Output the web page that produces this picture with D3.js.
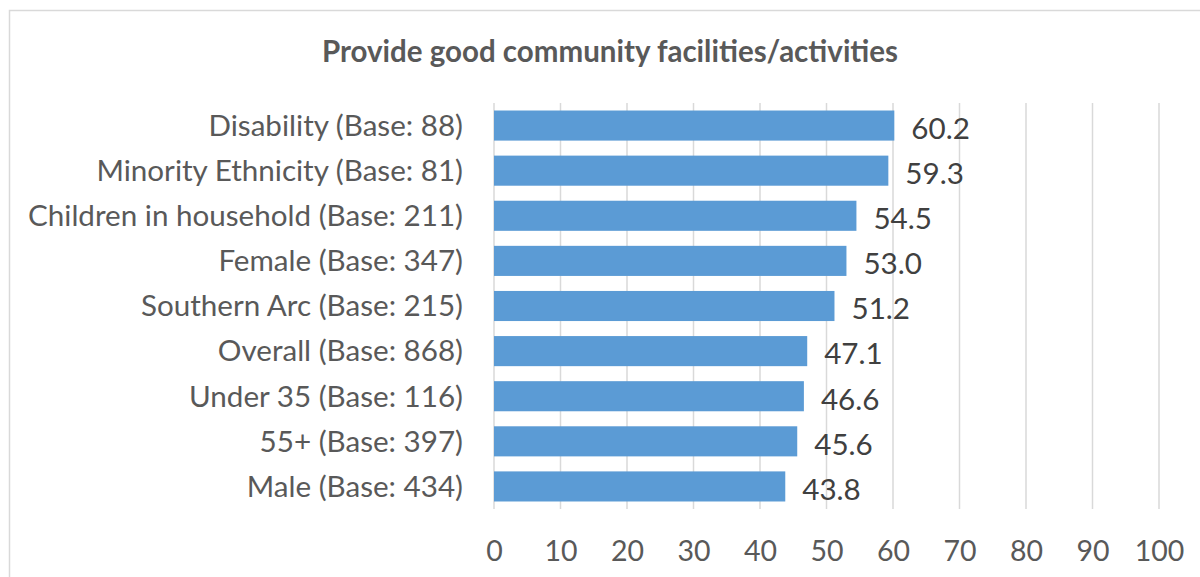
<!DOCTYPE html>
<html>
<head>
<meta charset="utf-8">
<script src="https://cdn.jsdelivr.net/npm/d3@7"></script>
<style>
  html, body { margin: 0; padding: 0; background: #fff; }
  svg { display: block; }
</style>
</head>
<body>
<div id="chart"></div>
<script>
const title = "Provide good community facilities/activities";
const categories = [
  "Disability (Base: 88)",
  "Minority Ethnicity (Base: 81)",
  "Children in household (Base: 211)",
  "Female (Base: 347)",
  "Southern Arc (Base: 215)",
  "Overall (Base: 868)",
  "Under 35 (Base: 116)",
  "55+ (Base: 397)",
  "Male (Base: 434)"
];
const values = [60.2, 59.3, 54.5, 53.0, 51.2, 47.1, 46.6, 45.6, 43.8];
const xTicks = [0, 10, 20, 30, 40, 50, 60, 70, 80, 90, 100];

const W = 1200, H = 577;
const font = "Lato, 'Liberation Sans', sans-serif";
const margin = { left: 494, right: 41, top: 103, bottom: 68 };

const svg = d3.select("#chart").append("svg")
  .attr("width", W).attr("height", H);

// chart border
svg.append("rect")
  .attr("x", 9.5).attr("y", 10.5)
  .attr("width", W + 20).attr("height", H + 20)
  .attr("fill", "#fff").attr("stroke", "#d9d9d9").attr("stroke-width", 1.5);

const x = d3.scaleLinear().domain([0, 100]).range([margin.left, W - margin.right]);
const y = d3.scaleBand().domain(categories)
  .range([margin.top, H - margin.bottom]).paddingInner(0.333).paddingOuter(0.1665);

// title
svg.append("text")
  .attr("x", 610).attr("y", 62)
  .attr("text-anchor", "middle")
  .attr("font-family", font).attr("font-weight", "bold")
  .attr("font-size", 29.5).attr("fill", "#595959")
  .text(title);

// gridlines
svg.append("g").selectAll("line").data(xTicks).join("line")
  .attr("x1", d => x(d)).attr("x2", d => x(d))
  .attr("y1", margin.top).attr("y2", H - margin.bottom)
  .attr("stroke", "#d9d9d9").attr("stroke-width", 1.5);

// x axis labels
const xAxis = d3.axisBottom(x).tickValues(xTicks).tickSize(0).tickPadding(0);
const gx = svg.append("g").attr("transform", `translate(0,${H - margin.bottom})`).call(xAxis);
gx.select(".domain").remove();
gx.selectAll("text")
  .attr("font-family", font).attr("font-size", 28.5).attr("fill", "#595959")
  .attr("dy", null).attr("y", 52);

// y axis labels
const yAxis = d3.axisLeft(y).tickSize(0).tickPadding(31);
const gy = svg.append("g").attr("transform", `translate(${margin.left},0)`).call(yAxis);
gy.select(".domain").remove();
gy.selectAll("text")
  .attr("font-family", font).attr("font-size", 29.6).attr("fill", "#595959")
  .attr("dy", "0.35em");

// bars
svg.append("g").selectAll("rect").data(values).join("rect")
  .attr("x", x(0))
  .attr("y", (d, i) => y(categories[i]))
  .attr("width", d => x(d) - x(0))
  .attr("height", y.bandwidth())
  .attr("fill", "#5b9bd5");

// value labels
svg.append("g").selectAll("text").data(values).join("text")
  .attr("x", d => x(d) + 17)
  .attr("y", (d, i) => y(categories[i]) + y.bandwidth() / 2 + 3)
  .attr("dy", "0.35em")
  .attr("font-family", font).attr("font-size", 29.6).attr("fill", "#404040")
  .text(d => d.toFixed(1));
</script>
</body>
</html>
